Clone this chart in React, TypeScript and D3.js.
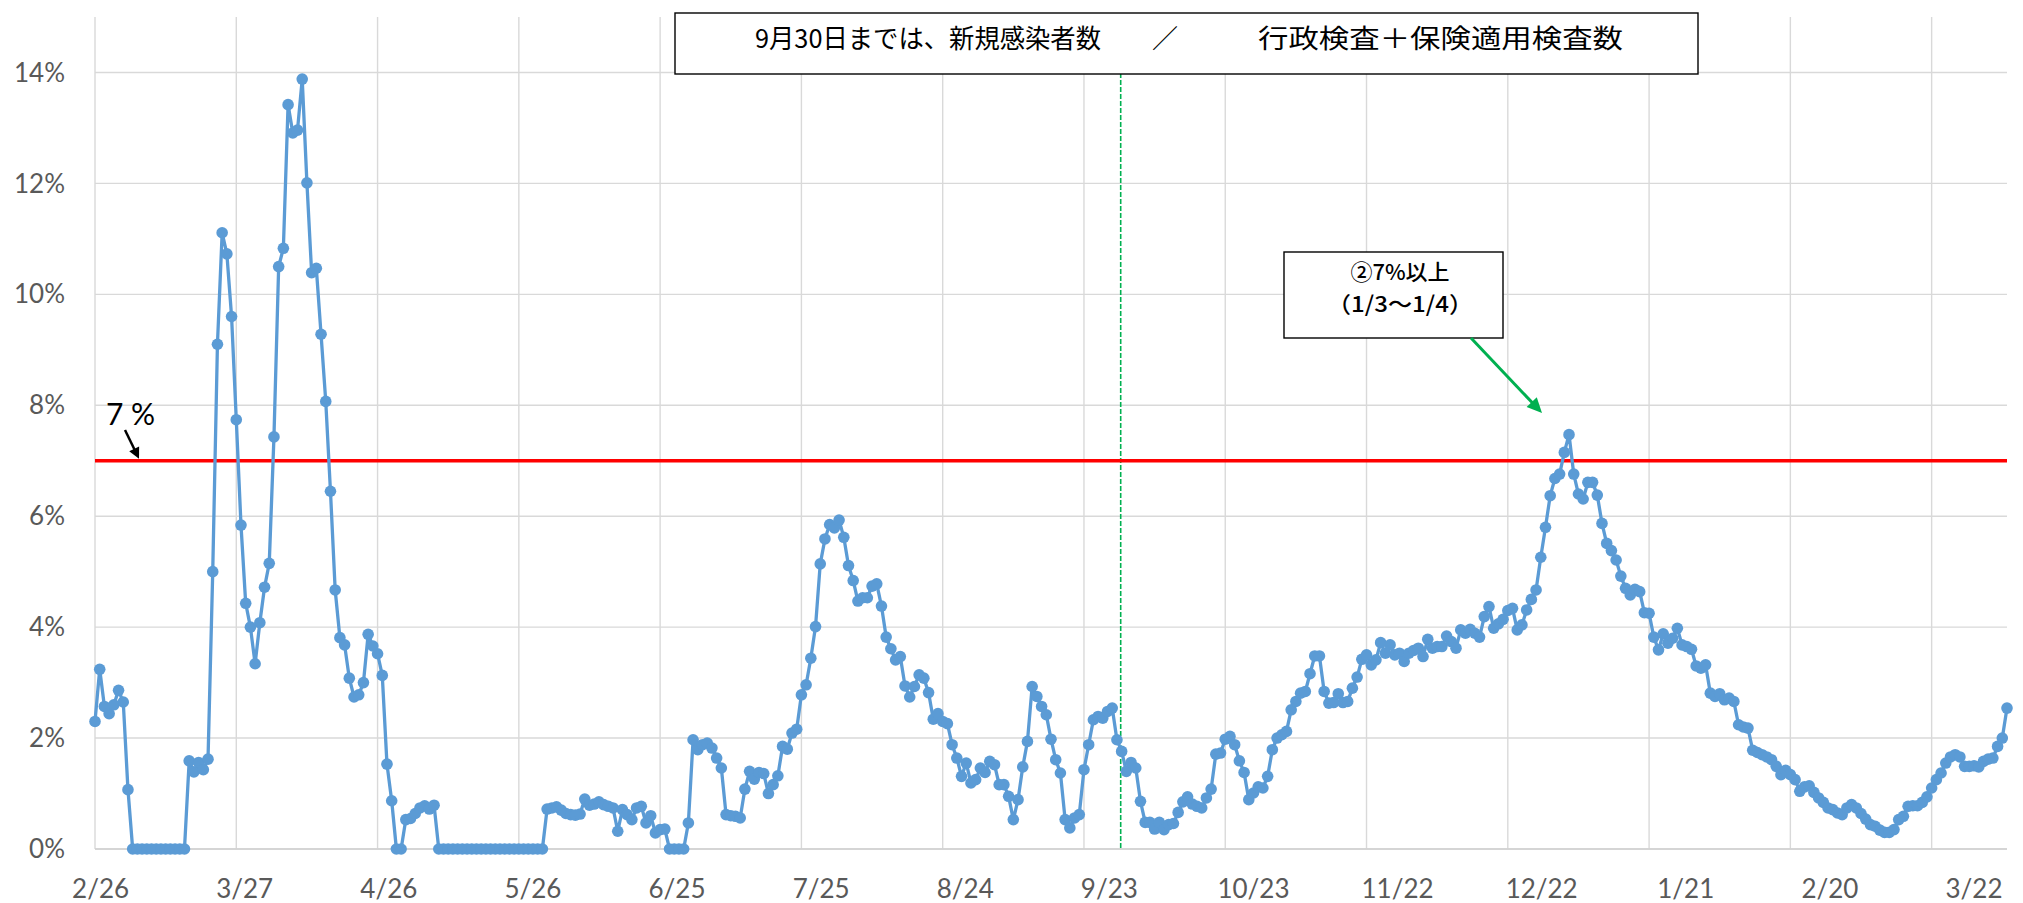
import React from 'react';
import * as d3 from 'd3';

// Daily positivity rate (%) starting 2/26
const positivity: number[] = [
  2.30, 3.24, 2.57, 2.44, 2.60, 2.86, 2.65, 1.07,
  0, 0, 0, 0, 0, 0, 0, 0, 0, 0, 0, 0,
  1.59, 1.39, 1.56, 1.43, 1.62,
  5.00, 9.10, 11.11, 10.73, 9.60, 7.74, 5.84, 4.43, 4.00, 3.34,
  4.08, 4.72, 5.15, 7.43, 10.50, 10.83, 13.42, 12.91, 12.96, 13.88,
  12.01, 10.39, 10.47, 9.28, 8.07, 6.45, 4.67, 3.81, 3.68, 3.08,
  2.74, 2.78, 3.00, 3.87, 3.66, 3.52, 3.13, 1.53, 0.87, 0,
  0, 0.53, 0.55, 0.64, 0.74, 0.78, 0.72, 0.79,
  0, 0, 0, 0, 0, 0, 0, 0, 0, 0, 0, 0, 0, 0, 0, 0, 0, 0, 0, 0, 0, 0, 0,
  0.72, 0.74, 0.76, 0.70, 0.64, 0.62, 0.61, 0.63, 0.90, 0.79, 0.81, 0.85,
  // d108
  0.80, 0.77, 0.74, 0.32, 0.71, 0.62, 0.53, 0.74, 0.77, 0.47,
  0.60, 0.29, 0.35, 0.36, 0, 0, 0, 0, 0.47, 1.97,
  1.79, 1.88, 1.91, 1.82, 1.64, 1.46, 0.62, 0.60, 0.59, 0.56,
  1.08, 1.40, 1.26, 1.38, 1.36, 1.00, 1.16, 1.32, 1.85, 1.80,
  2.09, 2.16, 2.78, 2.96, 3.44, 4.01, 5.14, 5.59, 5.85, 5.79,
  5.93, 5.62, 5.11, 4.84, 4.47, 4.53, 4.53, 4.74, 4.78, 4.38,
  3.82, 3.61, 3.41, 3.47, 2.94, 2.74, 2.93, 3.14, 3.08, 2.82,
  2.34, 2.44, 2.30, 2.26, 1.88, 1.64, 1.31, 1.55, 1.19, 1.25,
  1.46, 1.38, 1.58, 1.52, 1.16, 1.16, 0.95, 0.53, 0.89, 1.48,
  1.94, 2.93, 2.75, 2.57, 2.42, 1.98, 1.61, 1.37, 0.53, 0.38,
  0.56, 0.62, 1.43, 1.88, 2.33, 2.39, 2.36, 2.48, 2.54, 1.97,
  1.76, 1.40, 1.56, 1.46, 0.86, 0.48, 0.48, 0.36, 0.48, 0.35,
  0.44, 0.46, 0.66, 0.85, 0.94, 0.81, 0.77, 0.74, 0.92, 1.08,
  1.71, 1.73, 1.98, 2.03, 1.88, 1.59, 1.38, 0.89, 1.01, 1.12,
  1.10, 1.31, 1.79, 2.00, 2.06,
  // d253
  2.12, 2.51, 2.66, 2.81, 2.84, 3.16, 3.48, 3.48, 2.84, 2.63,
  2.64, 2.80, 2.64, 2.66, 2.90, 3.10, 3.42, 3.50, 3.32, 3.41,
  3.72, 3.53, 3.68, 3.50, 3.53, 3.38, 3.53, 3.58, 3.62, 3.47,
  3.78, 3.62, 3.65, 3.65, 3.84, 3.74, 3.62, 3.95, 3.89, 3.96,
  3.89, 3.82, 4.19, 4.37, 3.98, 4.06, 4.14, 4.30, 4.34, 3.95,
  4.04, 4.31, 4.50, 4.67, 5.26, 5.80, 6.37, 6.68, 6.76, 7.15,
  7.47, 6.76, 6.40, 6.31, 6.61, 6.61, 6.38, 5.87, 5.51, 5.38,
  5.21, 4.92, 4.70, 4.58, 4.68, 4.64, 4.26, 4.25, 3.82, 3.59,
  3.88, 3.71, 3.80, 3.98, 3.68, 3.65, 3.60, 3.30, 3.26, 3.32,
  2.81, 2.75, 2.80, 2.69, 2.72, 2.66, 2.24, 2.20, 2.18, 1.78,
  1.74, 1.70, 1.66, 1.61, 1.49, 1.34, 1.42, 1.34, 1.25, 1.04,
  1.12, 1.14, 1.02, 0.92, 0.84, 0.74, 0.71, 0.65, 0.62, 0.74,
  0.80, 0.74, 0.64, 0.54, 0.44, 0.41, 0.34, 0.30, 0.30, 0.35,
  0.53, 0.59, 0.77, 0.78, 0.78, 0.84, 0.94, 1.10, 1.25, 1.37,
  1.55, 1.66, 1.70, 1.66, 1.49, 1.49, 1.50, 1.48, 1.58, 1.62,
  1.64, 1.85, 2.00, 2.54,
];

const xTickLabels = ['2/26', '3/27', '4/26', '5/26', '6/25', '7/25', '8/24', '9/23', '10/23', '11/22', '12/22', '1/21', '2/20', '3/22'];
const yTickValues = [0, 2, 4, 6, 8, 10, 12, 14];
const thresholdValue = 7;
const switchDay = 217.8;
const titleLeft = '9月30日までは、新規感染者数';
const titleSlash = '／';
const titleRight = '行政検査＋保険適用検査数';
const calloutLine1 = '②7%以上';
const calloutLine2 = '（1/3〜1/4）';
const thresholdLabel = '7 %';

const W = 2023;
const H = 903;
const PL = 95, PR = 2007, PT = 17, PB = 849;

function Arrow({ x1, y1, x2, y2, color, width, headLen, headW }: any) {
  const dx = x2 - x1, dy = y2 - y1;
  const len = Math.sqrt(dx * dx + dy * dy);
  const ux = dx / len, uy = dy / len;
  const bx = x2 - ux * headLen, by = y2 - uy * headLen;
  const px = -uy, py = ux;
  const pts = `${x2},${y2} ${bx + px * headW},${by + py * headW} ${bx - px * headW},${by - py * headW}`;
  return (
    <g>
      <line x1={x1} y1={y1} x2={bx + ux * 1} y2={by + uy * 1} stroke={color} strokeWidth={width} />
      <polygon points={pts} fill={color} />
    </g>
  );
}

export default function App() {
  const x = d3.scaleLinear().domain([0, positivity.length - 1]).range([PL, PR]);
  const y = d3.scaleLinear().domain([0, 15]).range([PB, PT]);
  const labelX = d3.scaleLinear().domain([0, xTickLabels.length - 1]).range([100.6, 1974]);
  const gridDays = d3.range(0, positivity.length, 30);
  const line = d3.line<number>().x((_, i) => x(i)).y((d) => y(d));
  const pathD = line(positivity) || '';
  const tickFont = 'Lato, "Open Sans", sans-serif';
  const cjk = '"Noto Sans CJK JP", "Noto Sans", sans-serif';
  const y7 = y(thresholdValue);

  return (
    <svg width={W} height={H} style={{ position: 'absolute', left: 0, top: 0, background: '#fff' }}>
      <rect x={0} y={0} width={W} height={H} fill="#fff" />
      {yTickValues.map((v) => (
        <line key={'h' + v} x1={PL} x2={PR} y1={y(v)} y2={y(v)} stroke="#D9D9D9" strokeWidth={1.4} />
      ))}
      {gridDays.map((d) => (
        <line key={'v' + d} x1={x(d)} x2={x(d)} y1={PT} y2={PB} stroke="#D9D9D9" strokeWidth={1.4} />
      ))}
      <line x1={PL} x2={PR} y1={PB} y2={PB} stroke="#D0D0D0" strokeWidth={1.6} />
      {yTickValues.map((v) => (
        <text key={'yl' + v} x={65} y={y(v)} dy="0.35em" textAnchor="end" fontFamily={tickFont} fontSize={26} fill="#595959">
          {v + '%'}
        </text>
      ))}
      {xTickLabels.map((t, i) => (
        <text key={'xl' + t} x={labelX(i)} y={898} textAnchor="middle" fontFamily={tickFont} fontSize={26} fill="#595959">
          {t}
        </text>
      ))}
      <line x1={x(switchDay)} x2={x(switchDay)} y1={PT} y2={PB} stroke="#00B050" strokeWidth={1.6} strokeDasharray="5,2" />
      <line x1={PL} x2={PR} y1={y7} y2={y7} stroke="#FF0000" strokeWidth={3.5} />
      <path d={pathD} fill="none" stroke="#5B9BD5" strokeWidth={3.3} strokeLinejoin="round" />
      {positivity.map((v, i) => (
        <circle key={'p' + i} cx={x(i)} cy={y(v)} r={5.8} fill="#5B9BD5" />
      ))}
      <text x={106} y={425} fontFamily={tickFont} fontSize={30} fill="#000">{thresholdLabel}</text>
      <Arrow x1={125} y1={430} x2={139} y2={y7 - 2} color="#000" width={2.5} headLen={11} headW={5.5} />
      <rect x={675} y={13} width={1023} height={61} fill="#fff" stroke="#000" strokeWidth={1.4} />
      <text x={755} y={48} fontFamily={cjk} fontSize={26} fill="#000" textLength={346} lengthAdjust="spacingAndGlyphs">{titleLeft}</text>
      <text x={1165} y={48} textAnchor="middle" fontFamily={cjk} fontSize={26} fill="#000">{titleSlash}</text>
      <text x={1258} y={48} fontFamily={cjk} fontSize={26} fill="#000" textLength={365} lengthAdjust="spacingAndGlyphs">{titleRight}</text>
      <rect x={1284} y={252} width={219} height={86} fill="#fff" stroke="#000" strokeWidth={1.4} />
      <text x={1400} y={280} textAnchor="middle" fontFamily={cjk} fontSize={22} fontWeight={500} fill="#000">{calloutLine1}</text>
      <text x={1400} y={312} textAnchor="middle" fontFamily={cjk} fontSize={22} fontWeight={500} fill="#000" textLength={146} lengthAdjust="spacingAndGlyphs">{calloutLine2}</text>
      <Arrow x1={1471} y1={338} x2={1542} y2={413} color="#00B050" width={3} headLen={15} headW={7} />
    </svg>
  );
}
